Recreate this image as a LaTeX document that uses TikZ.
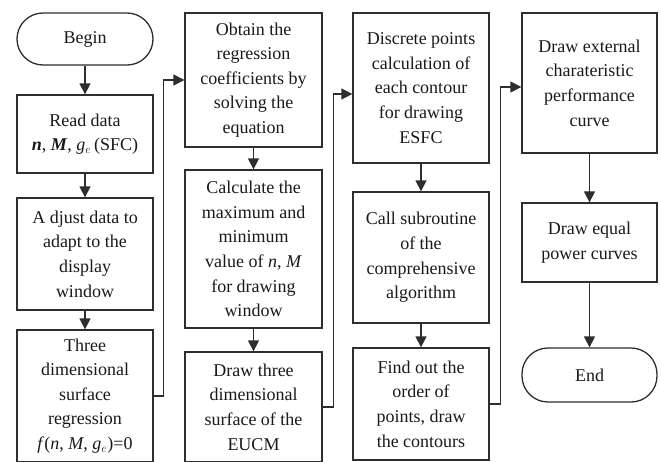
\documentclass[tikz,border=0pt]{standalone}
\usepackage{fontspec}
\setmainfont{Liberation Serif}
\usetikzlibrary{arrows.meta,calc}
\definecolor{ln}{HTML}{2E2E2E}
\begin{document}
\begin{tikzpicture}[x=1pt,y=-1pt,
  box/.style={draw=ln,line width=1.3pt,rectangle,align=center,inner sep=0pt,
    font=\fontsize{18}{24.6}\selectfont,text=black!90},
  term/.style={box,rounded corners=26pt},
  arr/.style={draw=ln,line width=1.3pt,-{Triangle[width=11pt,length=11pt]}},
  con/.style={draw=ln,line width=1.3pt}]
\useasboundingbox (0,0) rectangle (661,461);
% column 1
\node[term,minimum width=136pt,minimum height=52pt] (c1b1) at (85,39) {Begin};
\node[box,minimum width=136pt,minimum height=78pt] (c1b2) at (85,134) {Read data\\ \textbf{\textit{n}}, \textbf{\textit{M}}, \textit{g}$_e$\,(SFC)};
\node[box,minimum width=136pt,minimum height=112pt] (c1b3) at (85,254) {A djust data to\\adapt to the\\display\\window};
\node[box,minimum width=136pt,minimum height=132pt] (c1b4) at (85,396) {Three\\dimensional\\surface\\regression\\\textit{f}(\textit{n}, \textit{M}, \textit{g$_e$})=0};
% column 2
\node[box,minimum width=137pt,minimum height=134pt] (c2b1) at (253.5,80) {Obtain the\\regression\\coefficients by\\solving the\\equation};
\node[box,minimum width=137pt,minimum height=158pt] (c2b2) at (253.5,249) {Calculate the\\maximum and\\minimum\\value of \textit{n}, \textit{M}\\for drawing\\window};
\node[box,minimum width=137pt,minimum height=110pt] (c2b3) at (253.5,407) {Draw three\\dimensional\\surface of the\\EUCM};
% column 3
\node[box,minimum width=136pt,minimum height=150pt] (c3b1) at (421,88) {Discrete points\\calculation of\\each contour\\for drawing\\ESFC};
\node[box,minimum width=136pt,minimum height=131pt] (c3b2) at (421,257.5) {Call subroutine\\of the\\comprehensive\\algorithm};
\node[box,minimum width=136pt,minimum height=112pt] (c3b3) at (421,404) {Find out the\\order of\\points, draw\\the contours};
% column 4
\node[box,minimum width=135pt,minimum height=140pt] (c4b1) at (589.5,83) {Draw external\\charateristic\\performance\\curve};
\node[box,minimum width=135pt,minimum height=79pt] (c4b2) at (589.5,242.5) {Draw equal\\power curves};
\node[term,minimum width=135pt,minimum height=54pt] (c4b3) at (589.5,375) {End};
% arrows
\draw[arr] (c1b1) -- (c1b2);
\draw[arr] (c1b2) -- (c1b3);
\draw[arr] (c1b3) -- (c1b4);
\draw[arr] (c2b1) -- (c2b2);
\draw[arr] (c2b2) -- (c2b3);
\draw[arr] (c3b1) -- (c3b2);
\draw[arr] (c3b2) -- (c3b3);
\draw[arr] (c4b1) -- (c4b2);
\draw[arr] (c4b2) -- (c4b3);
\draw[arr] (c1b4.east) -- ++(10,0) |- (c2b1.west);
\draw[arr] (c2b3.east) -- ++(11,0) |- ([yshift=-6pt]c3b1.west);
\draw[arr] (c3b3.east) -- ++(11,0) |- ([yshift=-4pt]c4b1.west);
\end{tikzpicture}
\end{document}
